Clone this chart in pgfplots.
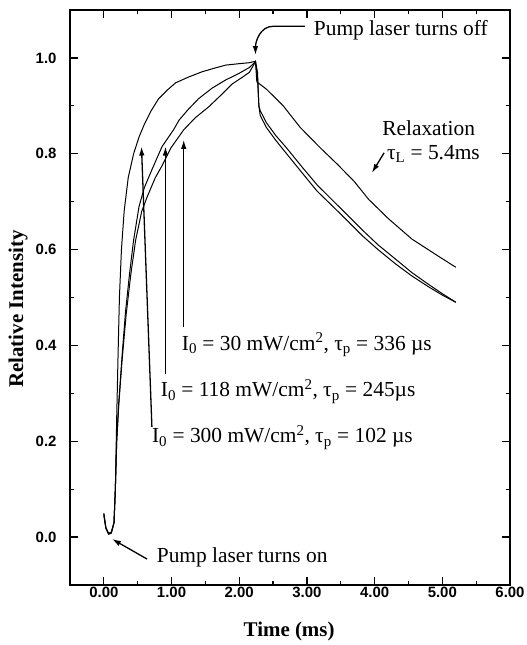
\documentclass[border=0pt]{standalone}
\usepackage{fontspec}
\setmainfont{Liberation Serif}
\newfontfamily\ticksans{Liberation Sans}
\usepackage{pgfplots}
\pgfplotsset{compat=1.18}
\usetikzlibrary{arrows.meta}

\begin{document}
\begin{tikzpicture}
\begin{axis}[
  scale only axis, width=440bp, height=575bp,
  xmin=-0.5, xmax=6, ymin=-0.1, ymax=1.1,
  xtick={0,1,2,3,4,5,6}, ytick={0,0.2,0.4,0.6,0.8,1.0},
  minor x tick num=1, minor y tick num=1,
  tick align=inside, major tick length=8bp, minor tick length=4bp,
  axis line style={line width=1.6bp},
  tick style={line width=1.2bp, black},
  ticklabel style={font=\ticksans\bfseries\fontsize{15}{17}\selectfont},
  xticklabel style={yshift=1bp, /pgf/number format/fixed, /pgf/number format/fixed zerofill,
    /pgf/number format/precision=2, /pgf/number format/assume math mode=true},
  yticklabel style={xshift=-10bp, /pgf/number format/fixed, /pgf/number format/fixed zerofill,
    /pgf/number format/precision=1, /pgf/number format/assume math mode=true},
  xlabel={Time (ms)}, ylabel={Relative Intensity},
  label style={font=\bfseries\fontsize{21}{24}\selectfont},
  xlabel style={at={(axis description cs:0.498,-0.08)}, anchor=center},
  ylabel style={at={(axis description cs:-0.118,0.48)}, anchor=center},
  clip=false,
]
% I0 = 300 mW/cm^2
\addplot[black, no markers, line width=1bp] coordinates {
(0.00,0.050) (0.03,0.020) (0.07,0.008) (0.11,0.010) (0.15,0.030) (0.17,0.100)
(0.19,0.250) (0.21,0.380) (0.23,0.500) (0.26,0.600) (0.30,0.680) (0.36,0.750)
(0.44,0.800) (0.52,0.835) (0.60,0.862) (0.70,0.890) (0.81,0.915) (0.93,0.932)
(1.06,0.948) (1.25,0.960) (1.45,0.971) (1.62,0.978) (1.80,0.985) (2.00,0.988)
(2.15,0.990) (2.24,0.993)
(2.27,0.970) (2.29,0.900) (2.31,0.880) (2.40,0.855) (2.54,0.828) (2.70,0.800)
(2.93,0.760) (3.15,0.722) (3.42,0.685) (3.60,0.660) (3.81,0.630) (4.05,0.600)
(4.31,0.570) (4.55,0.545) (4.80,0.522) (5.00,0.505) (5.20,0.490)
};
% I0 = 118 mW/cm^2
\addplot[black, no markers, line width=1bp] coordinates {
(0.00,0.045) (0.03,0.018) (0.07,0.006) (0.11,0.008) (0.15,0.030) (0.17,0.100)
(0.19,0.200) (0.22,0.280) (0.27,0.380) (0.32,0.470) (0.38,0.550) (0.44,0.620)
(0.52,0.690) (0.60,0.730) (0.72,0.770) (0.86,0.815) (1.03,0.850) (1.11,0.870)
(1.25,0.893) (1.40,0.915) (1.60,0.937) (1.80,0.954) (2.00,0.968) (2.15,0.980)
(2.24,0.992)
(2.27,0.960) (2.29,0.900) (2.31,0.890) (2.40,0.865) (2.54,0.838) (2.70,0.812)
(2.93,0.772) (3.15,0.735) (3.42,0.697) (3.60,0.672) (3.81,0.642) (4.05,0.610)
(4.31,0.580) (4.55,0.552) (4.80,0.527) (5.00,0.508) (5.20,0.490)
};
% I0 = 30 mW/cm^2
\addplot[black, no markers, line width=1bp] coordinates {
(0.00,0.048) (0.03,0.019) (0.07,0.007) (0.11,0.009) (0.15,0.030) (0.17,0.100)
(0.19,0.200) (0.22,0.275) (0.27,0.370) (0.33,0.465) (0.40,0.550) (0.47,0.620)
(0.56,0.680) (0.64,0.710) (0.76,0.750) (0.86,0.775) (0.99,0.812) (1.18,0.850)
(1.35,0.875) (1.55,0.898) (1.75,0.925) (1.89,0.945) (2.05,0.960) (2.15,0.970)
(2.24,0.992)
(2.26,0.950) (2.40,0.935) (2.65,0.900) (2.90,0.855) (3.20,0.812) (3.45,0.778)
(3.70,0.742) (3.91,0.705) (4.20,0.665) (4.55,0.622) (4.90,0.590) (5.20,0.563)
};

\begin{scope}[font=\fontsize{21.5}{24}\selectfont, inner sep=0pt]
\node[anchor=west] at (axis cs:3.10,1.058) {Pump laser turns off};
\node[anchor=west] at (axis cs:4.11,0.854) {Relaxation};
\node[anchor=west] at (axis cs:4.18,0.800) {τ\textsubscript{L} = 5.4ms};
\node[anchor=west] at (axis cs:1.15,0.402) {I\textsubscript{0} = 30 mW/cm\textsuperscript{2}, τ\textsubscript{p} = 336 µs};
\node[anchor=west] at (axis cs:0.84,0.304) {I\textsubscript{0} = 118 mW/cm\textsuperscript{2}, τ\textsubscript{p} = 245µs};
\node[anchor=west] at (axis cs:0.71,0.208) {I\textsubscript{0} = 300 mW/cm\textsuperscript{2}, τ\textsubscript{p} = 102 µs};
\node[anchor=west] at (axis cs:0.78,-0.042) {Pump laser turns on};
\end{scope}

\begin{scope}[line width=1.3bp, -{Latex[length=9bp,width=5.5bp]}]
\draw (axis cs:2.97,1.066) -- (axis cs:2.50,1.066) to[out=180,in=90] (axis cs:2.24,1.006);
\draw (axis cs:4.14,0.802) -- (axis cs:3.96,0.760);
\draw (axis cs:1.18,0.4375) -- (axis cs:1.18,0.829);
\draw (axis cs:0.91,0.340) -- (axis cs:0.91,0.815);
\draw (axis cs:0.71,0.230) -- (axis cs:0.556,0.815);
\draw (axis cs:0.64,-0.046) -- (axis cs:0.12,-0.004);
\end{scope}
\end{axis}
\pgfresetboundingbox
\path[use as bounding box] ([shift={(-70bp,-60bp)}]current axis.south west) rectangle ([shift={(17bp,10bp)}]current axis.north east);
\end{tikzpicture}
\end{document}
